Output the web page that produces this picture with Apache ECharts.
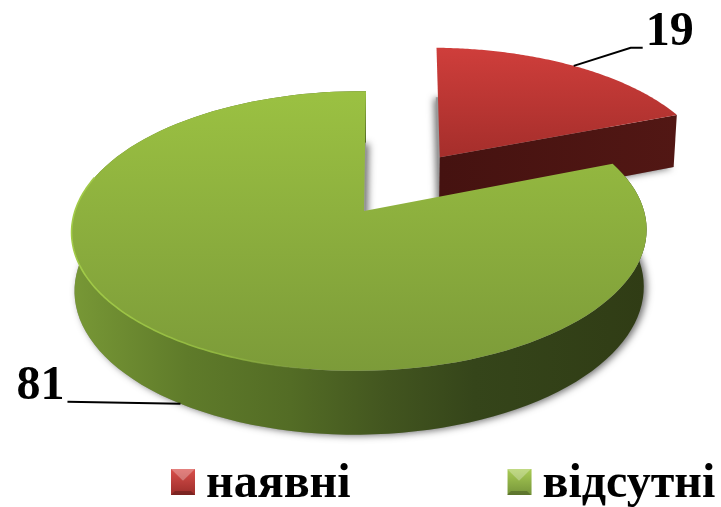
<!DOCTYPE html>
<html><head><meta charset="utf-8">
<style>html,body{margin:0;padding:0;background:#fff}#c{width:721px;height:507px}</style>
<script src="https://cdn.jsdelivr.net/npm/echarts@6/dist/echarts.min.js"></script>
</head><body><div id="c"></div>
<script>
const categories = ['наявні', 'відсутні'];
const values = [19, 81];
const labels = ['19', '81'];

const total = values.reduce((a, b) => a + b, 0);
const CX = 364, CY = 211, RX = 284.5, RY = 137, K = 0.143, M = 0.0157;
const DEPTH = 57, DP = 0.73, BOTTOM_SCALE = 0.99;
const explode = [{X: 0.273, Y: 0.4175, s: 7, r: 1.025, sx: -2}, {X: 0, Y: 0, s: 2.3, r: 1, sx: 3}];
const topFill = [['#cf3e3b', '#a52e2b'], ['#9bc142', '#7c9b39']];
const LG = echarts.graphic.LinearGradient;
const wallFill = [
  new LG(440, 0, 680, 0, [{offset: 0, color: '#451210'}, {offset: 1, color: '#521714'}], true),
  new LG(72, 0, 647, 0, [
    {offset: 0, color: '#789836'}, {offset: 0.2, color: '#5f7b2a'}, {offset: 0.38, color: '#536c25'},
    {offset: 0.55, color: '#42551f'}, {offset: 0.7, color: '#35451a'}, {offset: 1, color: '#303c15'}], true)
];

function project(ex, ang, r, bottom) {
  const X = ex.X + ex.r * r * Math.sin(ang), Y = ex.Y + ex.r * r * Math.cos(ang);
  const w = 1 + K * Y + M * X;
  let x = (RX * X + ex.s * Y) / w, y = -RY * Y / w;
  if (bottom) { x *= BOTTOM_SCALE; y += DEPTH / Math.pow(w, DP); }
  return [CX + x, CY + y];
}
function arc(ex, a0, a1, bottom) {
  const pts = [], n = 120;
  for (let i = 0; i <= n; i++) pts.push(project(ex, a0 + (a1 - a0) * i / n, 1, bottom));
  return pts;
}
function sector(ex, a0, a1, bottom) {
  return [project(ex, 0, 0, bottom)].concat(arc(ex, a0, a1, bottom));
}
function sliceRender(idx) {
  return function (params, api) {
    let start = 0;
    for (let i = 0; i < idx; i++) start += values[i];
    const a0 = start / total * 2 * Math.PI;
    const a1 = (start + api.value(0)) / total * 2 * Math.PI;
    const mid = (a0 + a1) / 2;
    const ex = explode[idx];
    const children = [];
    // soft shadow cast by the underside
    children.push({type: 'polygon', shape: {points: sector(ex, a0, a1, true)},
      style: {fill: '#999', shadowBlur: 7, shadowColor: 'rgba(0,0,0,0.55)', shadowOffsetY: 1, shadowOffsetX: ex.sx}});
    // walls
    const tip = project(ex, 0, 0, false), tipB = project(ex, 0, 0, true);
    if (idx === 0) {
      const t1 = project(ex, a1, 1, false), b1 = project(ex, a1, 1, true);
      children.push({type: 'polygon', shape: {points: [tip, t1, b1, tipB]}, style: {fill: wallFill[0]}});
    } else {
      const top = arc(ex, a0, a1, false), bot = arc(ex, a0, a1, true).reverse();
      children.push({type: 'polygon', shape: {points: top.concat(bot)}, style: {fill: wallFill[1]}});
    }
    // top face
    const face = sector(ex, a0, a1, false);
    const ys = face.map(p => p[1]);
    children.push({type: 'polygon', shape: {points: face}, style: {
      fill: new LG(0, Math.min.apply(null, ys), 0, Math.max.apply(null, ys),
        [{offset: 0, color: topFill[idx][0]}, {offset: 1, color: topFill[idx][1]}], true)}});
    if (idx === 1) {
      children.push({type: 'polyline', shape: {points: arc(ex, Math.PI * 1.05, Math.PI * 1.58, false)}, style: {
        fill: null, lineWidth: 1.6,
        stroke: new LG(72, 0, 330, 0, [{offset: 0, color: '#a3cc48'}, {offset: 0.6, color: '#8fb53f'},
          {offset: 1, color: 'rgba(125,155,57,0)'}], true)}});
    }
    // leader line and value label
    const anchor = project(ex, mid, 1, idx === 1);
    const line = idx === 0
      ? [anchor, [anchor[0] + 57, anchor[1] - 18], [anchor[0] + 69, anchor[1] - 18]]
      : [anchor, [anchor[0] - 113, anchor[1] - 2]];
    children.push({type: 'polyline', shape: {points: line}, style: {fill: null, stroke: '#000', lineWidth: 2}});
    const end = line[line.length - 1];
    children.push({type: 'text', style: {
      text: labels[idx], font: 'bold 48px "Liberation Serif"', fill: '#000',
      x: idx === 0 ? end[0] + 3 : end[0] - 3, y: idx === 0 ? end[1] + 5 : end[1] + 5,
      align: idx === 0 ? 'left' : 'right', verticalAlign: 'bottom', lineHeight: 40}});
    return {type: 'group', children};
  };
}
const chart = echarts.init(document.getElementById('c'), null, {renderer: 'canvas'});
const legendColor = [
  new LG(0, 0, 0, 1, [{offset: 0, color: '#d9504c'}, {offset: 0.8, color: '#9c2d2a'}, {offset: 1, color: '#9c2d2a'}]),
  new LG(0, 0, 0, 1, [{offset: 0, color: '#a9cc55'}, {offset: 0.8, color: '#76953a'}, {offset: 1, color: '#76953a'}])
];
function bevel(x, y, w, h) {
  return [
    {type: 'polygon', silent: true, shape: {points: [[x, y], [x + w, y], [x + w / 2, y + h * 0.45]]},
      style: {fill: 'rgba(255,255,255,0.28)'}},
    {type: 'polygon', silent: true, shape: {points: [[x, y + h], [x + w, y + h], [x + w - 4, y + h - 4], [x + 4, y + h - 4]]},
      style: {fill: 'rgba(0,0,0,0.22)'}}
  ];
}
chart.setOption({
  animation: false,
  backgroundColor: '#fff',
  legend: {
    left: 166, top: 456, itemWidth: 24, itemHeight: 32, itemGap: 157,
    icon: 'path://M0 0H24V26H0Z M0 32H24',
    selectedMode: false,
    data: categories.map((n, i) => ({name: n, itemStyle: {color: legendColor[i]}})),
    textStyle: {fontFamily: 'Liberation Serif', fontWeight: 'bold', fontSize: 48, color: '#000', padding: [6, 0, 0, 6]}
  },
  graphic: {elements: bevel(171, 469, 24, 26).concat(bevel(507, 469, 24, 26)).map(e => Object.assign(e, {z: 200}))},
  series: categories.map((name, i) => ({
    type: 'custom', name, coordinateSystem: 'none', z: 2 + i,
    itemStyle: {color: i ? '#9bbb59' : '#c0504d'},
    renderItem: sliceRender(i),
    data: [[values[i]]],
    encode: {value: 0}
  }))
});
</script></body></html>
